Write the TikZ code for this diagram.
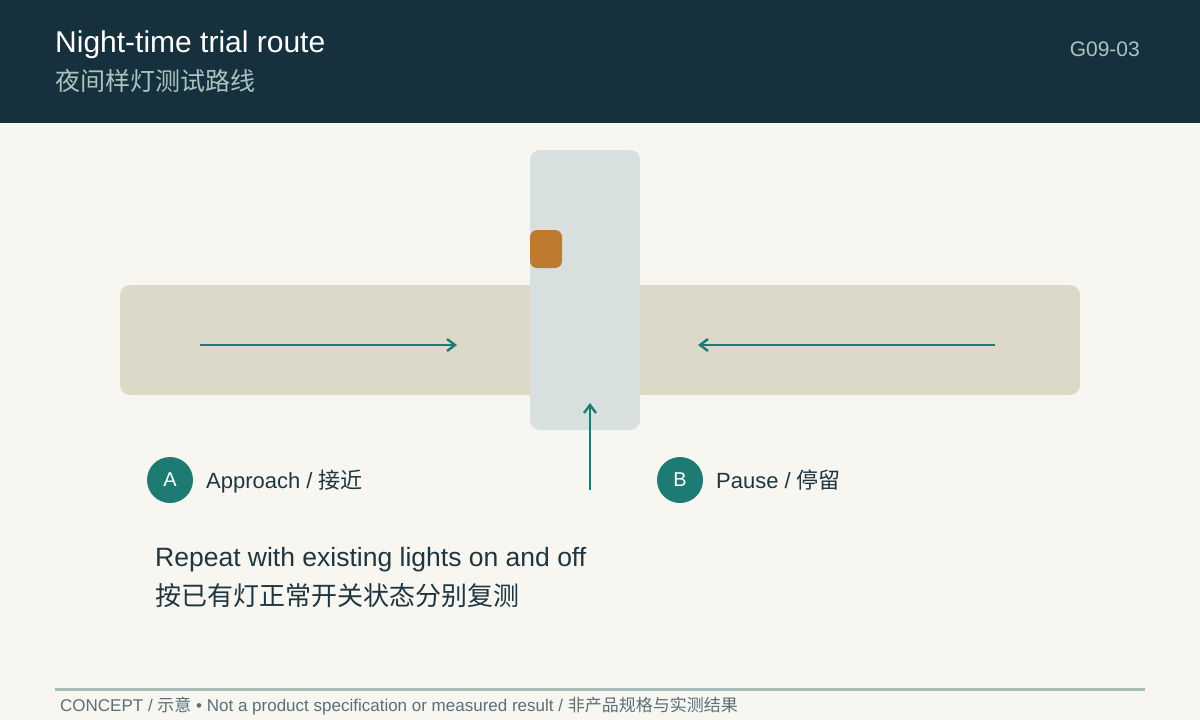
\documentclass[tikz,border=0pt]{standalone}
\usepackage{fontspec}
\setmainfont{Liberation Sans}
\newfontfamily\cjk{Noto Sans CJK SC}
\definecolor{hdr}{HTML}{17303D}
\definecolor{bg}{HTML}{F7F6F1}
\definecolor{road}{HTML}{DDD9C8}
\definecolor{vroad}{HTML}{D7E0DE}
\definecolor{lamp}{HTML}{C07A30}
\definecolor{teal}{HTML}{1E7B74}
\definecolor{sub}{HTML}{A9C4C0}
\definecolor{ink}{HTML}{1F3540}
\definecolor{foot}{HTML}{5A6F77}
\definecolor{rule}{HTML}{A9BDB8}
\begin{document}
\begin{tikzpicture}[x=1pt,y=-1pt,
  arr/.style={teal,line width=2.4pt,-{Straight Barb[length=8pt,width=12pt]}},
  badge/.style={circle,fill=teal,minimum size=46pt,inner sep=0pt,text=white,font=\fontsize{20}{24}\selectfont},
  lbl/.style={anchor=base west,inner sep=0pt,text=ink,font=\fontsize{22}{26}\selectfont}]
\usetikzlibrary{arrows.meta}
\fill[bg] (0,0) rectangle (1200,720);
\fill[hdr] (0,0) rectangle (1200,123);
\node[anchor=base west,inner sep=0pt,text=white,font=\fontsize{30}{34}\selectfont] (t) at (55,52) {Night-time trial route};
\node[anchor=base west,inner sep=0pt,text=sub,font=\cjk\fontsize{25}{30}\selectfont] (ts) at (55,90) {夜间样灯测试路线};
\node[anchor=base east,inner sep=0pt,text=sub,font=\fontsize{21}{25}\selectfont] (id) at (1140,56) {G09-03};
\fill[road,rounded corners=10pt] (120,285) rectangle (1080,395);
\fill[vroad,rounded corners=10pt] (530,150) rectangle (640,430);
\fill[lamp,rounded corners=7pt] (530,230) rectangle (562,268);
\coordinate (a1) at (200,345); \coordinate (a2) at (457,345);
\coordinate (b1) at (995,345); \coordinate (b2) at (698,345);
\coordinate (c1) at (590,490); \coordinate (c2) at (590,403);
\draw[arr] (a1) -- (a2);
\draw[arr] (b1) -- (b2);
\draw[arr] (c1) -- (c2);
\node[badge] (A) at (170,480) {A};
\node[lbl] (la) at (206,488) {Approach / {\cjk 接近}};
\node[badge] (B) at (680,480) {B};
\node[lbl] (lb) at (716,488) {Pause / {\cjk 停留}};
\node[anchor=base west,inner sep=0pt,text=ink,font=\fontsize{26.5}{30}\selectfont] (r1) at (155,566) {Repeat with existing lights on and off};
\node[anchor=base west,inner sep=0pt,text=ink,font=\cjk\fontsize{26}{30}\selectfont] (r2) at (155,605) {按已有灯正常开关状态分别复测};
\draw[rule,line width=3pt] (55,689) -- (1145,689);
\node[anchor=base west,inner sep=0pt,text=foot,font=\fontsize{17}{20}\selectfont] (f) at (60,711) {CONCEPT / {\cjk 示意} • Not a product specification or measured result / {\cjk 非产品规格与实测结果}};
\end{tikzpicture}
\end{document}
